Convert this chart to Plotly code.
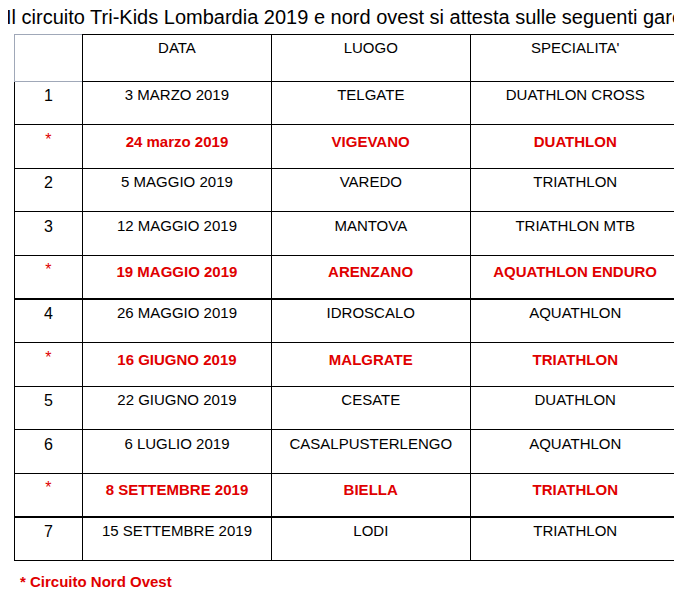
import plotly.graph_objects as go

num = ["1", "*", "2", "3", "*", "4", "*", "5", "6", "*", "7"]
data = ["3 MARZO 2019", "24 marzo 2019", "5 MAGGIO 2019", "12 MAGGIO 2019", "19 MAGGIO 2019",
        "26 MAGGIO 2019", "16 GIUGNO 2019", "22 GIUGNO 2019", "6 LUGLIO 2019",
        "8 SETTEMBRE 2019", "15 SETTEMBRE 2019"]
luogo = ["TELGATE", "VIGEVANO", "VAREDO", "MANTOVA", "ARENZANO", "IDROSCALO", "MALGRATE",
         "CESATE", "CASALPUSTERLENGO", "BIELLA", "LODI"]
spec = ["DUATHLON CROSS", "DUATHLON", "TRIATHLON", "TRIATHLON MTB", "AQUATHLON ENDURO",
        "AQUATHLON", "TRIATHLON", "DUATHLON", "AQUATHLON", "TRIATHLON", "TRIATHLON"]
header = ["", "DATA", "LUOGO", "SPECIALITA'"]

W, H = 682, 593
x0, x1 = 6, 672
top, row_h = 26, 43.6

nw = [n == "*" for n in num]
def fmt(col):
    return [f"<b>{v}</b>" if r else v for v, r in zip(col, nw)]
colors = ["#e00000" if r else "black" for r in nw]

fig = go.Figure(go.Table(
    columnwidth=[68, 186, 197, 207],
    header=dict(values=header, height=47, align="center", fill_color="white",
                line=dict(color=["#a0a8b8", "black", "black", "black"], width=1),
                font=dict(family="Liberation Sans, Arial", size=15, color="black")),
    cells=dict(values=[num, fmt(data), fmt(luogo), fmt(spec)], height=row_h,
               align="center", fill_color="white",
               line=dict(color="black", width=1),
               font=dict(family="Liberation Sans, Arial", size=[16, 15, 15, 15],
                         color=[colors] * 4)),
    domain=dict(x=[x0 / W, x1 / W], y=[0, 1 - top / H]),
))

fig.add_annotation(text="Il circuito Tri-Kids Lombardia 2019 e nord ovest si attesta sulle seguenti gare",
                   x=-4 / W, y=1 + 4 / H, xref="paper", yref="paper", xanchor="left", yanchor="top",
                   showarrow=False, font=dict(family="Liberation Sans, Arial", size=20, color="black"))
fig.add_annotation(text="<b>* Circuito Nord Ovest</b>", x=10 / W, y=1 - 563 / H, xref="paper", yref="paper",
                   xanchor="left", yanchor="top", showarrow=False,
                   font=dict(family="Liberation Sans, Arial", size=15, color="#e00000"))

fig.update_layout(width=W, height=H, margin=dict(l=0, r=0, t=0, b=0),
                  paper_bgcolor="white", plot_bgcolor="white")
fig.write_html("out.html")
